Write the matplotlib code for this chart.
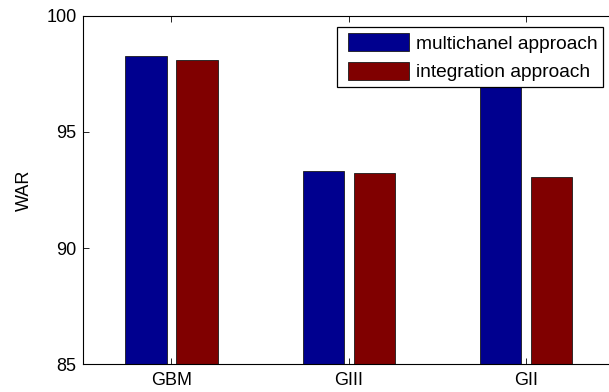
import matplotlib
matplotlib.use("Agg")
import matplotlib.pyplot as plt
from matplotlib.patches import Rectangle
from matplotlib.legend_handler import HandlerPatch
import numpy as np

plt.rcParams['font.family'] = ['Liberation Sans', 'DejaVu Sans']

categories = ["GBM", "GIII", "GII"]
multichannel = [98.29, 93.30, 98.0]
integration = [98.08, 93.22, 93.04]
series_names = ["multichanel approach", "integration approach"]
yticks = [85, 90, 95, 100]

fig = plt.figure(figsize=(6.09, 3.92), dpi=100)
ax = fig.add_axes([0.1358, 0.0707, 0.874, 0.889])

x = np.arange(1, len(categories) + 1)
width = 0.233
offset = 0.144
bars_a = ax.bar(x - offset, multichannel, width, color="#00008F",
                edgecolor="#1a1a1a", linewidth=0.6)
bars_b = ax.bar(x + offset, integration, width, color="#800000",
                edgecolor="#1a1a1a", linewidth=0.6)

ax.set_xlim(0.5, 3.5)
ax.set_ylim(85, 100)
ax.set_xticks(x)
ax.set_xticklabels(categories)
ax.set_yticks(yticks)
ax.tick_params(direction="in", length=4, width=0.6, labelsize=13,
               top=True, right=True)
ax.tick_params(axis="x", pad=5.5)
ax.tick_params(axis="y", pad=4.5)
for s in ax.spines.values():
    s.set_linewidth(0.8)
ax.set_ylabel("WAR", fontsize=13, labelpad=9.5)


def inset_patch(legend, orig_handle, xdescent, ydescent, width, height, fontsize):
    # swatch indented a little from the legend frame
    indent = 0.28 * fontsize
    return Rectangle((-xdescent + indent, -ydescent), width - indent, height)


leg = ax.legend(handles=[bars_a.patches[0], bars_b.patches[0]],
                labels=series_names,
                loc="upper left", bbox_to_anchor=(0.478, 0.9667),
                fontsize=13.8, frameon=True, fancybox=False, framealpha=1,
                edgecolor="black", handlelength=3.45, handleheight=1.08,
                labelspacing=0.47, handletextpad=0.35, borderpad=0.3,
                borderaxespad=0,
                handler_map={Rectangle: HandlerPatch(patch_func=inset_patch)})
leg.get_frame().set_linewidth(0.9)

fig.savefig("out.png", dpi=100)
